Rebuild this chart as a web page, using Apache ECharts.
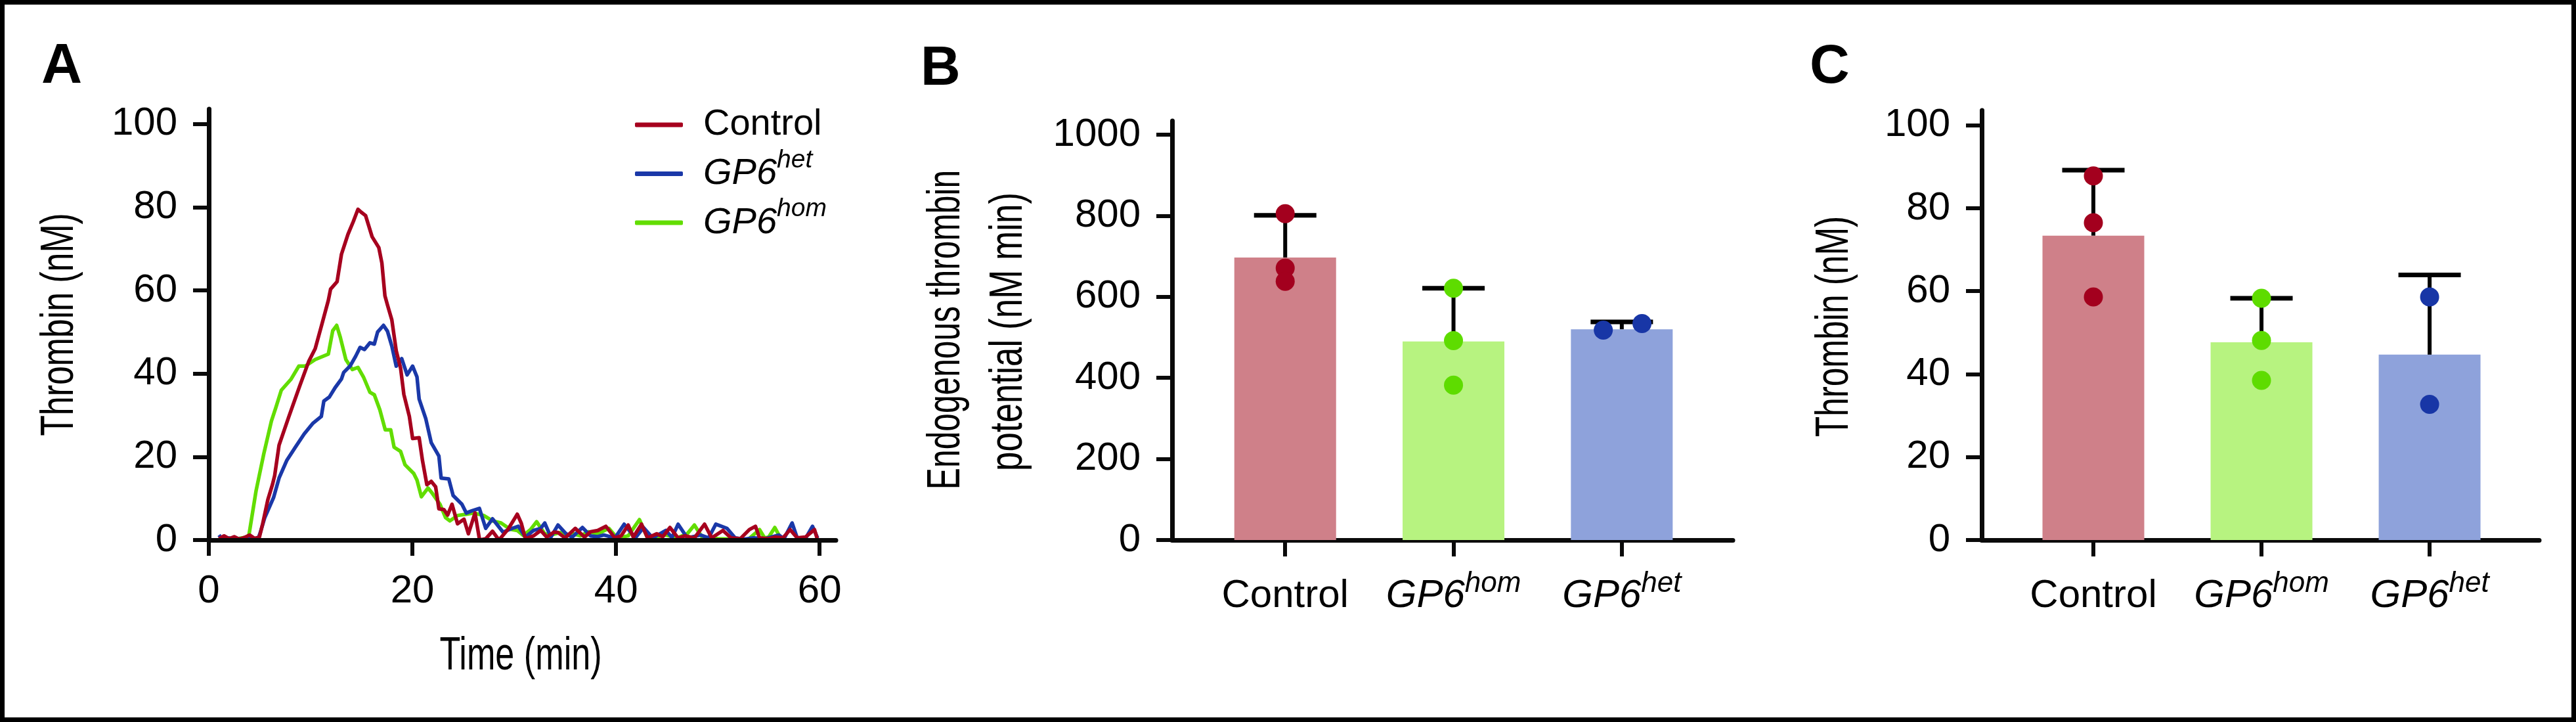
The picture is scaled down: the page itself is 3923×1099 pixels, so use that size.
<!DOCTYPE html>
<html><head><meta charset="utf-8">
<script src="https://cdn.jsdelivr.net/npm/echarts@6/dist/echarts.min.js"></script>
<style>html,body{margin:0;padding:0;background:#fff}#c{width:3923px;height:1099px}</style>
</head><body><div id="c"></div>
<script>
// ---------- Panel A: thrombin generation curves ----------
const ctrlT = [1.0,1.5,2.0,2.5,3.0,3.5,4.0,4.5,4.97,5.29,5.8,6.26,6.47,6.9,7.87,8.94,9.81,10.45,11.1,11.74,11.96,12.6,13.03,13.67,14.2,14.65,14.97,15.4,16.04,16.7,17.0,17.3,17.55,17.98,18.41,18.84,19.16,19.7,20.02,20.66,20.99,21.42,21.85,22.28,22.6,23.1,23.46,23.89,24.43,25.07,25.5,26.15,26.6,27.2,27.87,28.5,29.4,30.0,30.3,30.7,31.1,31.9,32.6,33.2,33.9,34.3,35.0,36.0,36.9,37.5,38.2,39.0,39.9,40.5,41.2,41.7,42.5,43.1,44.0,44.6,45.3,46.1,46.8,47.7,48.7,49.4,50.5,51.3,52.2,53.1,53.7,54.1,55.0,55.6,56.4,57.1,57.8,58.6,59.5,59.8];
const ctrlV = [0.3,1.0,0.3,0.8,0.2,0.6,1.2,0.4,0.7,3.9,9.7,13.4,15.5,22.8,29.7,37.1,42.9,46.0,51.8,57.6,60.3,62.1,68.7,73.5,76.6,79.5,78.8,78.0,72.9,70.3,66.6,58.7,56.5,52.9,45.5,41.3,35.0,29.7,24.4,24.6,19.1,13.3,14.1,12.8,7.5,7.3,6.0,8.6,3.9,5.0,1.5,6.5,0,0.3,2.1,0,2.6,5.0,6.2,4.0,0.3,1.0,2.3,0.7,1.9,1.8,0.5,2.8,0.7,2.0,2.3,3.3,0.5,1.0,3.6,0.7,3.8,0.5,1.5,0.8,3.0,0.5,1.0,0.5,3.8,0.5,2.3,0.5,0.3,2.5,3.3,0.5,0.3,0.7,0.5,2.5,0.5,0.7,2.5,0];
const hetT = [1.0,1.3,2.0,2.5,3.0,3.5,4.0,4.5,4.8,5.07,5.5,6.36,6.9,7.65,8.5,9.37,10.24,11.05,11.3,11.85,12.4,13.03,13.25,13.9,14.43,14.86,15.29,15.83,16.26,16.58,17.16,17.55,17.98,18.41,18.95,19.48,20.02,20.45,20.66,21.31,21.85,22.6,22.82,23.57,24.0,24.86,25.29,25.83,26.58,27.2,27.87,28.9,29.8,30.4,31.1,31.9,32.6,33.0,33.6,34.3,35.1,35.7,36.7,37.5,38.2,38.8,39.9,40.8,41.9,42.7,43.6,44.9,45.5,46.1,47.0,48.3,49.1,49.8,50.9,51.7,52.6,53.5,54.6,56.0,56.5,57.3,57.8,58.6,59.3,59.8];
const hetV = [1.2,0.2,0.5,0.2,0.3,0.1,0.6,0.2,0,1.9,5.4,10.2,14.9,19.1,22.3,25.5,28.1,29.7,33.4,34.4,36.6,38.7,40.3,41.9,44.2,46.3,45.8,47.4,47.1,50.0,51.6,50.2,46.6,41.8,43.6,39.7,41.8,39.2,33.9,29.2,23.4,20.2,14.9,14.7,10.7,8.6,6.5,7.0,7.6,2.8,5.1,1.9,2.8,3.3,0.7,2.3,2.8,4.1,0.7,3.6,1.5,0.7,3.0,1.0,0.8,1.2,0.5,3.8,0.5,3.0,0.5,2.3,0.6,3.8,0.5,1.2,0.5,3.8,2.8,0.5,0.2,0.5,0.3,1.2,0.3,4.1,0.5,0.3,3.3,0.5];
const homT = [1.0,2.0,3.0,3.5,3.89,4.64,5.4,6.15,6.58,7.12,8.09,8.84,9.48,10.45,11.74,12.17,12.56,12.92,13.46,14.1,14.65,15.19,15.83,16.26,16.8,17.33,17.87,18.2,18.84,19.27,20.13,20.45,20.88,21.53,21.96,22.71,23.25,23.68,24.43,25.29,26.04,27.0,27.87,28.7,29.6,30.3,30.9,31.6,32.2,33.0,33.6,34.5,35.2,35.8,36.5,37.3,38.2,39.3,40.1,41.2,42.3,43.1,44.0,44.9,46.0,47.0,47.7,48.5,50.0,51.5,53.0,54.1,54.6,55.0,55.6,56.2];
const homV = [0.3,0.2,0.4,0.6,0.4,11.8,20.7,28.6,31.8,36.0,38.7,41.8,41.8,43.4,44.7,50.3,51.6,48.7,43.4,41.0,41.5,39.2,35.5,34.9,31.3,26.5,26.5,22.3,21.3,18.1,16.0,14.4,10.4,12.5,11.2,8.6,5.4,4.6,5.9,6.2,6.5,5.9,4.6,4.1,2.6,2.3,1.1,2.5,4.4,1.5,1.2,1.8,1.0,1.5,1.0,2.0,1.5,2.8,0.5,1.0,4.9,0.5,0.8,1.2,0.5,1.5,3.6,0.5,0.3,0.2,0.2,2.5,0.5,0.7,3.0,0.3];

// ---------- Panels B & C ----------
const catBase = ['Control', 'GP6', 'GP6'];
const catSup = ['', 'hom', 'het'];
const catPos = [0, 1, 2];
// B: Endogenous thrombin potential (nM min)
const etpMean = [697, 490, 520];
const etpUpper = [801, 621, 538];
const etpCtrl = [805, 671, 638];
const etpHom = [621, 492, 382];
const etpHet = [518, 534];
const etpHetX = [1.89, 2.12];
// C: peak thrombin (nM)
const peakMean = [73.4, 47.7, 44.7];
const peakUpper = [89.2, 58.3, 63.9];
const peakCtrl = [87.8, 76.5, 58.6];
const peakHom = [58.3, 48.1, 38.5];
const peakHet = [58.6, 32.7];

const barColors = ['#CF8089', '#B7F380', '#8EA2DB'];
const dotColors = ['#A3001E', '#5EDC00', '#1836A6'];
const lineColors = {Control: '#A6001E', GP6het: '#1A38A8', GP6hom: '#62DD00'};

const SANS = '"Liberation Sans", Arial, sans-serif';
const AX = '#0a0a0a';

const zip = (a, b) => a.map((v, i) => [v, b[i]]);

function catLabel(v) {
  const i = Math.round(v);
  if (catSup[i]) return '{mi|' + catBase[i] + '}{s|' + catSup[i] + '}';
  return '{m|' + catBase[i] + '}';
}
const catRich = {
  m: {fontFamily: SANS, fontSize: 60, lineHeight: 80, color: '#000'},
  mi: {fontFamily: SANS, fontSize: 60, lineHeight: 80, fontStyle: 'italic', color: '#000'},
  s: {fontFamily: SANS, fontSize: 44, lineHeight: 44, fontStyle: 'italic', verticalAlign: 'top', color: '#000'}
};

function yAxisCfg(grid, max, interval) {
  return {
    type: 'value', gridIndex: grid, min: 0, max: max, interval: interval,
    axisLine: {show: true, onZero: false, lineStyle: {color: AX, width: 7}},
    axisTick: {show: true, length: 24, lineStyle: {color: AX, width: 6}},
    axisLabel: {fontFamily: SANS, fontSize: 60, lineHeight: 60, color: '#000', margin: 48, formatter: v => String(v)},
    splitLine: {show: false}
  };
}
function catXAxis(grid, min, max) {
  return {
    type: 'value', gridIndex: grid, min: min, max: max,
    axisLine: {show: true, onZero: false, lineStyle: {color: AX, width: 7}},
    axisTick: {show: true, length: 25, customValues: catPos, lineStyle: {color: AX, width: 6}},
    axisLabel: {customValues: catPos, formatter: catLabel, rich: catRich, margin: 45, color: '#000'},
    splitLine: {show: false}
  };
}
function errSeries(xi, yi, mean, upper) {
  return {
    type: 'custom', xAxisIndex: xi, yAxisIndex: yi, z: 3,
    data: mean.map((m, i) => [catPos[i], m, upper[i]]),
    renderItem: function (params, api) {
      const x = api.value(0);
      const p0 = api.coord([x, api.value(1)]);
      const p1 = api.coord([x, api.value(2)]);
      return {type: 'group', children: [
        {type: 'line', shape: {x1: p0[0], y1: p0[1], x2: p1[0], y2: p1[1]}, style: {stroke: '#000', lineWidth: 6}},
        {type: 'line', shape: {x1: p1[0] - 47.5, y1: p1[1], x2: p1[0] + 47.5, y2: p1[1]}, style: {stroke: '#000', lineWidth: 7}}
      ]};
    }
  };
}
function barSeries(xi, yi, mean) {
  return {
    type: 'bar', xAxisIndex: xi, yAxisIndex: yi, barWidth: 155, z: 2,
    data: mean.map((m, i) => ({value: [catPos[i], m], itemStyle: {color: barColors[i]}}))
  };
}
function dotSeries(xi, yi, xs, ys, color) {
  return {
    type: 'scatter', xAxisIndex: xi, yAxisIndex: yi, z: 4, symbolSize: 29,
    itemStyle: {color: color, opacity: 1}, data: zip(xs, ys)
  };
}
function lineSeries(name, t, v) {
  return {
    type: 'line', name: name, xAxisIndex: 0, yAxisIndex: 0, showSymbol: false, symbol: 'none',
    lineStyle: {color: lineColors[name], width: 5.5, join: 'round'}, itemStyle: {color: lineColors[name]},
    data: zip(t, v), z: 2
  };
}
// condensed axis titles (real text, compressed horizontally)
function title(text, x, y, rot, sx) {
  return {
    type: 'text', z: 100, x: x, y: y, rotation: rot, scaleX: sx, scaleY: 1,
    style: {text: text, fontFamily: SANS, fontSize: 70, fill: '#000', align: 'center', verticalAlign: 'middle'}
  };
}

const legendLabel = {
  Control: '{m|Control}',
  GP6het: '{mi|GP6}{s|het}',
  GP6hom: '{mi|GP6}{s|hom}'
};

const R = Math.PI / 2;
const chart = echarts.init(document.getElementById('c'), null, {renderer: 'canvas'});
chart.setOption({
  animation: false,
  backgroundColor: '#fff',
  grid: [
    {left: 318, top: 166, width: 955, height: 656},
    {left: 1785, top: 184, width: 854, height: 638},
    {left: 3018, top: 168, width: 849, height: 654}
  ],
  xAxis: [
    {
      type: 'value', gridIndex: 0, min: 0, max: 61.6, interval: 20, z: 5,
      axisLine: {show: true, onZero: false, lineStyle: {color: AX, width: 7}},
      axisTick: {show: true, length: 24, lineStyle: {color: AX, width: 6}},
      axisLabel: {fontFamily: SANS, fontSize: 60, lineHeight: 60, color: '#000', margin: 48},
      splitLine: {show: false}
    },
    catXAxis(1, -0.672, 2.66),
    catXAxis(2, -0.664, 2.652)
  ],
  yAxis: [
    yAxisCfg(0, 103.6, 20),
    yAxisCfg(1, 1034, 200),
    yAxisCfg(2, 103.6, 20)
  ],
  legend: {
    data: ['Control', 'GP6het', 'GP6hom'],
    orient: 'vertical', left: 962, top: 157, itemWidth: 73, itemHeight: 7, itemGap: 6.5,
    icon: 'roundRect',
    formatter: n => legendLabel[n],
    textStyle: {
      padding: [0, 0, 0, 26],
      rich: {
        m: {fontFamily: SANS, fontSize: 56, lineHeight: 80, color: '#000'},
        mi: {fontFamily: SANS, fontSize: 56, lineHeight: 80, fontStyle: 'italic', color: '#000'},
        s: {fontFamily: SANS, fontSize: 39, lineHeight: 39, fontStyle: 'italic', verticalAlign: 'top', color: '#000'}
      }
    }
  },
  series: [
    lineSeries('GP6hom', homT, homV),
    lineSeries('GP6het', hetT, hetV),
    lineSeries('Control', ctrlT, ctrlV),
    barSeries(1, 1, etpMean),
    errSeries(1, 1, etpMean, etpUpper),
    dotSeries(1, 1, etpCtrl.map(() => catPos[0]), etpCtrl, dotColors[0]),
    dotSeries(1, 1, etpHom.map(() => catPos[1]), etpHom, dotColors[1]),
    dotSeries(1, 1, etpHetX, etpHet, dotColors[2]),
    barSeries(2, 2, peakMean),
    errSeries(2, 2, peakMean, peakUpper),
    dotSeries(2, 2, peakCtrl.map(() => catPos[0]), peakCtrl, dotColors[0]),
    dotSeries(2, 2, peakHom.map(() => catPos[1]), peakHom, dotColors[1]),
    dotSeries(2, 2, peakHet.map(() => catPos[2]), peakHet, dotColors[2])
  ],
  graphic: [
    {type: 'rect', z: 100, shape: {x: 3.5, y: 3.5, width: 3916, height: 1092}, style: {fill: 'none', stroke: '#000', lineWidth: 7}},
    {type: 'text', z: 100, x: 63, y: 102, style: {text: 'A', fontFamily: SANS, fontWeight: 'bold', fontSize: 86, fill: '#000', verticalAlign: 'middle'}},
    {type: 'text', z: 100, x: 1402, y: 106, style: {text: 'B', fontFamily: SANS, fontWeight: 'bold', fontSize: 84, fill: '#000', verticalAlign: 'middle'}},
    {type: 'text', z: 100, x: 2756, y: 103, style: {text: 'C', fontFamily: SANS, fontWeight: 'bold', fontSize: 84, fill: '#000', verticalAlign: 'middle'}},
    title('Thrombin (nM)', 92, 494, R, 0.74),
    title('Time (min)', 793, 1000, 0, 0.745),
    title('Endogenous thrombin', 1442, 502, R, 0.71),
    title('potential (nM min)', 1537, 505, R, 0.757),
    title('Thrombin (nM)', 2795, 497, R, 0.733)
  ]
});
</script>
</body></html>
